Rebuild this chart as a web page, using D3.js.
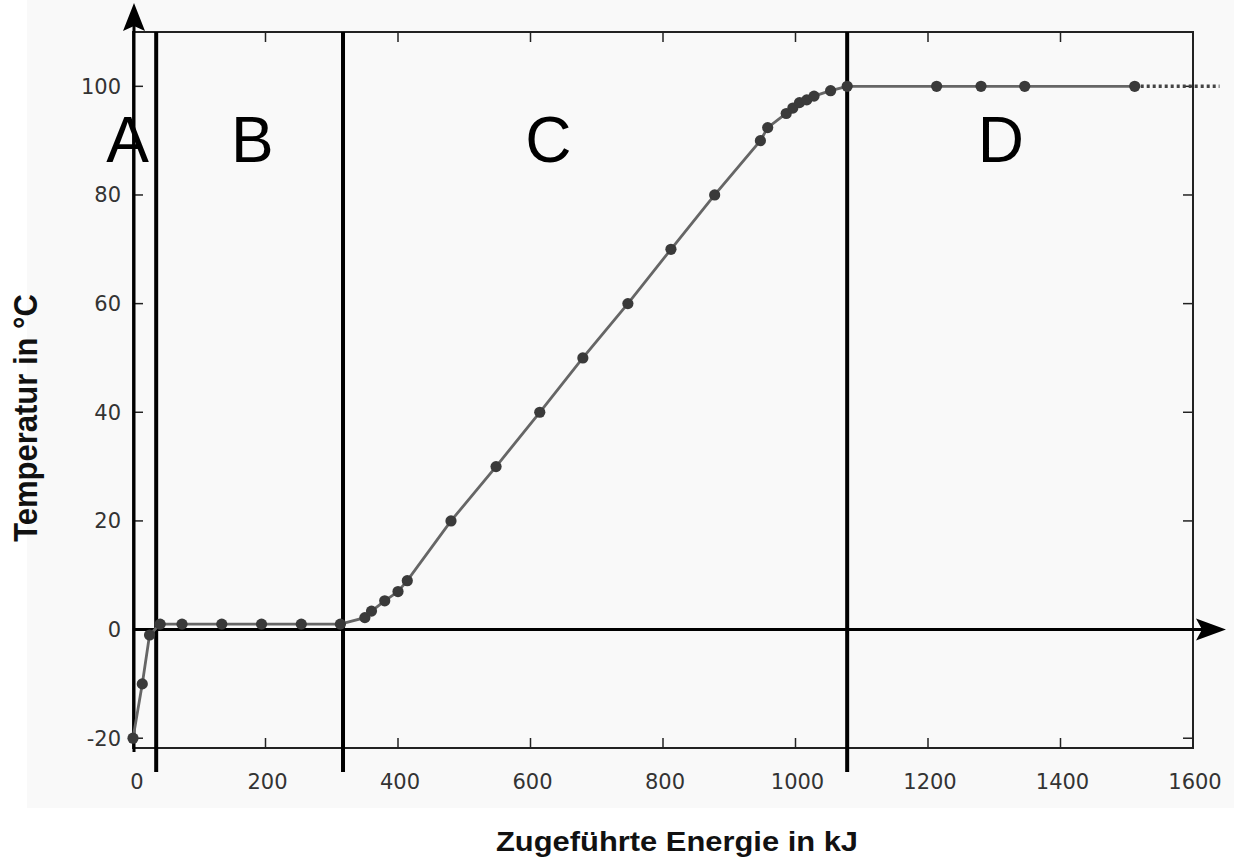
<!DOCTYPE html>
<html><head><meta charset="utf-8">
<script src="https://cdn.jsdelivr.net/npm/d3@7"></script>
<style>html,body{margin:0;padding:0;background:#fff;}svg{display:block;}</style>
</head><body>
<script>
const energy = [0, 14, 25, 41, 74, 134, 194, 254, 313, 350, 360, 380, 400, 414, 480, 548, 614, 679, 747, 812, 878, 947, 958, 986, 996, 1006, 1017, 1028, 1053, 1078, 1213, 1280, 1346, 1512];
const temperature = [-20, -10, -1, 1, 1, 1, 1, 1, 1, 2.2, 3.4, 5.3, 7, 9, 20, 30, 40, 50, 60, 70, 80, 90, 92.4, 95, 96, 97, 97.5, 98.2, 99.2, 100, 100, 100, 100, 100];
const extEnergy = [1512, 1640];
const extTemp = [100, 100];
const xTicks = [0, 200, 400, 600, 800, 1000, 1200, 1400, 1600];
const yTicks = [-20, 0, 20, 40, 60, 80, 100];
const phaseBounds = [35, 317, 1078];
const phaseLabels = ["A", "B", "C", "D"];
const phaseLabelX = [-8, 180, 627, 1310];
const xTitle = "Zugeführte Energie in kJ";
const yTitle = "Temperatur in °C";

(function () {
const W = 1234, H = 858;
const svg = d3.select("body").append("svg").attr("width", W).attr("height", H);
svg.append("rect").attr("x", 27).attr("y", 0).attr("width", W - 27).attr("height", 808).attr("fill", "#f9f9f9");

const x = d3.scaleLinear().domain([0, 1600]).range([133, 1193]);
const y = d3.scaleLinear().domain([-21.8, 110]).range([748, 32]);
const pL = x(0), pR = x(1600), pT = y(110), pB = y(-21.8);

// frame
svg.append("rect").attr("x", pL).attr("y", pT).attr("width", pR - pL).attr("height", pB - pT)
  .attr("fill", "none").attr("stroke", "#222").attr("stroke-width", 2);

// ticks (mirrored, inward)
const tl = 10;
const g = svg.append("g").attr("stroke", "#222").attr("stroke-width", 1.5);
xTicks.forEach(t => {
  g.append("line").attr("x1", x(t)).attr("x2", x(t)).attr("y1", pB).attr("y2", pB - tl);
  g.append("line").attr("x1", x(t)).attr("x2", x(t)).attr("y1", pT).attr("y2", pT + tl);
});
yTicks.forEach(t => {
  g.append("line").attr("y1", y(t)).attr("y2", y(t)).attr("x1", pL).attr("x2", pL + tl);
  g.append("line").attr("y1", y(t)).attr("y2", y(t)).attr("x1", pR).attr("x2", pR - tl);
});

// tick labels
svg.append("g").selectAll("text").data(xTicks).join("text")
  .attr("x", d => x(d) + (d === 0 ? 4 : 2)).attr("y", 789).attr("text-anchor", "middle")
  .attr("font-family", "DejaVu Sans").attr("font-size", 21).attr("fill", "#333").text(d => d);
svg.append("g").selectAll("text").data(yTicks).join("text")
  .attr("x", 121).attr("y", d => y(d) + 7.5).attr("text-anchor", "end")
  .attr("font-family", "DejaVu Sans").attr("font-size", 21).attr("fill", "#333").text(d => d);

// phase boundary lines
svg.append("g").selectAll("line").data(phaseBounds).join("line")
  .attr("x1", d => x(d)).attr("x2", d => x(d)).attr("y1", pT).attr("y2", 772)
  .attr("stroke", "#000").attr("stroke-width", 4);

// axes arrows
const ax = x(0) + 1;
svg.append("line").attr("x1", ax).attr("x2", ax).attr("y1", 752).attr("y2", 20)
  .attr("stroke", "#000").attr("stroke-width", 3);
const ay = y(0);
svg.append("line").attr("x1", x(0)).attr("x2", 1205).attr("y1", ay).attr("y2", ay)
  .attr("stroke", "#000").attr("stroke-width", 3);
svg.append("path").attr("d", `M${ax},3 L${ax + 11},31 L${ax},26 L${ax - 11},31 Z`).attr("fill", "#000");
svg.append("path").attr("d", `M1226,${ay} L1196,${ay - 11} L1202,${ay} L1196,${ay + 11} Z`).attr("fill", "#000");

// data line
const pts = energy.map((e, i) => [e, temperature[i]]);
svg.append("path").datum(pts)
  .attr("d", d3.line().x(d => x(d[0])).y(d => y(d[1])))
  .attr("fill", "none").attr("stroke", "#666").attr("stroke-width", 2.8);
const ext = extEnergy.map((e, i) => [e, extTemp[i]]);
svg.append("path").datum(ext)
  .attr("d", d3.line().x(d => x(d[0])).y(d => y(d[1])))
  .attr("fill", "none").attr("stroke", "#444").attr("stroke-width", 3.5)
  .attr("stroke-dasharray", "3,3");
svg.append("g").selectAll("circle").data(pts).join("circle")
  .attr("cx", d => x(d[0])).attr("cy", d => y(d[1])).attr("r", 5.6).attr("fill", "#3a3a3a");

// phase labels
svg.append("g").selectAll("text").data(phaseLabels).join("text")
  .attr("x", (d, i) => x(phaseLabelX[i])).attr("y", 162).attr("text-anchor", "middle")
  .attr("font-family", "Liberation Sans").attr("font-size", 64).attr("fill", "#000").text(d => d);

// titles
svg.append("text").attr("x", 677).attr("y", 851).attr("text-anchor", "middle")
  .attr("font-family", "Liberation Sans").attr("font-weight", "bold").attr("font-size", 27)
  .attr("textLength", 362).attr("lengthAdjust", "spacingAndGlyphs")
  .attr("fill", "#111").text(xTitle);
svg.append("text").attr("transform", "translate(37,418) scale(1.05,1) rotate(-90)").attr("text-anchor", "middle")
  .attr("font-family", "Liberation Sans").attr("font-weight", "bold").attr("font-size", 31)
  .attr("fill", "#111").text(yTitle);
})();
</script>
</body></html>
